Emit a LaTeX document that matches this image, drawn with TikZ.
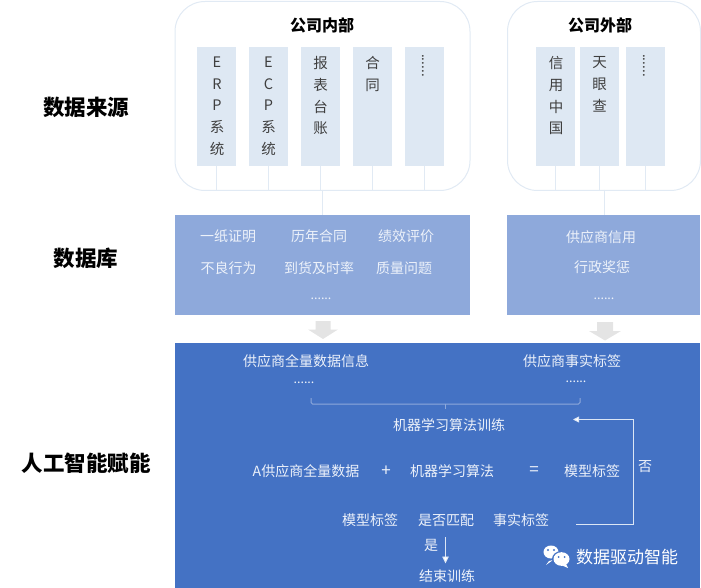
\documentclass[tikz,border=0pt]{standalone}
\usepackage{fontspec}
\setmainfont{Noto Sans CJK SC}
\usetikzlibrary{arrows.meta,calc}
\definecolor{colfill}{HTML}{DEE8F3}
\definecolor{edgeblue}{HTML}{E1EAF4}
\definecolor{dbblue}{HTML}{8EA9DB}
\definecolor{mainblue}{HTML}{4472C4}
\definecolor{softwhite}{HTML}{EDF2FA}
\definecolor{linewhite}{HTML}{DCE6F5}
\definecolor{bracketblue}{HTML}{8EA9DB}
\definecolor{inktext}{HTML}{3F3F3F}
\definecolor{arrowgrey}{HTML}{E4E4E4}
\tikzset{
  x=1pt,y=-1pt,
  outerbox/.style={draw=edgeblue,line width=1pt,fill=white,rounded corners=30pt,anchor=north west,inner sep=0pt},
  colbox/.style={fill=colfill,anchor=north west,inner sep=0pt,minimum width=39pt,minimum height=119pt},
  coltext/.style={anchor=north,align=center,text=inktext,font=\fontsize{14.5}{21.7}\selectfont,inner sep=0pt},
  stem/.style={draw=edgeblue,line width=1pt},
  section/.style={font=\fontsize{21.5}{24}\selectfont\bfseries,text=black,inner sep=0pt},
  head/.style={font=\fontsize{16}{18}\selectfont\bfseries,text=black,inner sep=0pt},
  panel/.style={anchor=north west,inner sep=0pt},
  dbtext/.style={font=\fontsize{14}{16}\selectfont,text=softwhite,inner sep=0pt},
  optext/.style={font=\fontsize{17}{19}\selectfont,text=softwhite,inner sep=0pt},
  dottext/.style={font=\fontsize{12.5}{14}\selectfont,text=softwhite,inner sep=0pt},
  dotsv/.style={font=\fontsize{13.5}{16}\selectfont,text=inktext,rotate=-90,inner sep=0pt},
  wline/.style={draw=linewhite,line width=0.9pt},
  graydown/.style={fill=arrowgrey},
}
\begin{document}
\begin{tikzpicture}
\useasboundingbox (0,0) rectangle (701,588);
% outer boxes
\node[outerbox,minimum width=295pt,minimum height=189pt] (inner) at (174.5,1) {};
\node[outerbox,minimum width=193pt,minimum height=189pt] (outer) at (507,1) {};
\node[head] (innerT) at (322,25) {公司内部};
\node[head] (outerT) at (600,25) {公司外部};
% columns
\node[colbox] (c1) at (197,47) {};
\node[colbox] (c2) at (249,47) {};
\node[colbox] (c3) at (301,47) {};
\node[colbox] (c4) at (353,47) {};
\node[colbox] (c5) at (405,47) {};
\node[colbox] (d1) at (536,47) {};
\node[colbox] (d2) at (580,47) {};
\node[colbox] (d3) at (626,47) {};
\node[coltext] (t1) at (217,56.5) {E\\R\\P\\系\\统};
\node[coltext] (t2) at (268.5,56.5) {E\\C\\P\\系\\统};
\node[coltext] (t3) at (320.5,56.5) {报\\表\\台\\账};
\node[coltext] (t4) at (372.5,56.5) {合\\同};
\node[coltext] (u1) at (556,56.5) {信\\用\\中\\国};
\node[coltext] (u2) at (599.5,56.5) {天\\眼\\查};
\node[dotsv] (t5) at (423,65.5) {......};
\node[dotsv] (u3) at (644,65.5) {......};
% panels
\node[panel,fill=dbblue,minimum width=295pt,minimum height=100pt] (db1) at (175,214.5) {};
\node[panel,fill=dbblue,minimum width=193pt,minimum height=100pt] (db2) at (507,214.5) {};
\node[panel,fill=mainblue,minimum width=525pt,minimum height=245.5pt] (ai) at (175,342.5) {};
% stems
\foreach \n in {c1,c2,c3,c4,c5}{\draw[stem] (\n.south) -- (\n.south |- inner.south);}
\foreach \n in {d1,d2,d3}{\draw[stem] (\n.south) -- (\n.south |- outer.south);}
\coordinate (st1) at (322,190);
\coordinate (st2) at (604,190);
\draw[stem] (st1) -- (st1 |- db1.north);
\draw[stem] (st2) -- (st2 |- db2.north);
% section labels
\node[section] (s1) at (86,107) {数据来源};
\node[section] (s2) at (86,258) {数据库};
\node[section] (s3) at (86,463) {人工智能赋能};
% db text
\node[dbtext] (a1) at (228,236.5) {一纸证明};
\node[dbtext] (a2) at (319,236.5) {历年合同};
\node[dbtext] (a3) at (406,236.5) {绩效评价};
\node[dbtext] (a4) at (228.5,268) {不良行为};
\node[dbtext] (a5) at (319,268) {到货及时率};
\node[dbtext] (a6) at (404,268) {质量问题};
\node[dottext] (a7) at (321,299) {......};
\node[dbtext] (b1) at (601,237) {供应商信用};
\node[dbtext] (b2) at (602,267) {行政奖惩};
\node[dottext] (b3) at (604,299) {......};
% grey arrows
\fill[graydown] (315.5,321) -- (330.5,321) -- (330.5,329.5) -- (338,329.5) -- (323,339) -- (308,329.5) -- (315.5,329.5) -- cycle;
\fill[graydown] (597,322) -- (613,322) -- (613,331) -- (621,331) -- (605,340.5) -- (589,331) -- (597,331) -- cycle;
% AI text
\node[dbtext] (k1) at (306,361) {供应商全量数据信息};
\node[dottext] (k2) at (304,383) {......};
\node[dbtext] (k3) at (572,361) {供应商事实标签};
\node[dottext] (k4) at (576,382) {......};
\node[dbtext] (m0) at (449,425) {机器学习算法训练};
\node[dbtext] (m1) at (306,471) {A供应商全量数据};
\node[optext] (m2) at (386,471) {+};
\node[dbtext] (m3) at (452,471) {机器学习算法};
\node[optext] (m4) at (534,471) {=};
\node[dbtext] (m5) at (592,471) {模型标签};
\node[dbtext] (n1) at (370,520) {模型标签};
\node[dbtext] (n2) at (446,520) {是否匹配};
\node[dbtext] (n3) at (521,520) {事实标签};
\node[dbtext] (no) at (645,467) {否};
\node[dbtext] (yes) at (431,545) {是};
\node[dbtext] (end) at (447,576) {结束训练};
% bracket
\coordinate (brL) at (311,398);
\coordinate (brR) at (580,398);
\coordinate (brM) at (445,404);
\coordinate (brS) at (445,409);
\draw[draw=bracketblue,line width=1pt,rounded corners=1.5pt] (brL) |- (brM) -| (brR);
\draw[draw=bracketblue,line width=0.8pt] (brM) -- (brS);
% feedback
\coordinate (fbS) at (576,524);
\coordinate (fbC) at (633.5,524);
\coordinate (fbT) at (573,419.5);
\draw[wline,-{Triangle[length=6pt,width=6pt,fill=white]}] (fbS) -- (fbC) |- (fbT);
% yes arrow
\coordinate (yS) at (445.5,537);
\coordinate (yE) at (445.5,563.5);
\draw[wline,-{Triangle[length=7pt,width=6.5pt,fill=white]}] (yS) -- (yE);
% watermark
\fill[white] (551,552) ellipse (7.5pt and 6.5pt);
\fill[white] (549,561) -- (546,565) -- (553,560) -- cycle;
\fill[mainblue] (561.5,559) ellipse (9.5pt and 8pt);
\fill[white] (561.5,559) ellipse (8pt and 6.8pt);
\fill[white] (566,564) -- (568,568) -- (561,565) -- cycle;
\fill[mainblue] (548,550) circle (1.2pt) (554,550) circle (1.2pt) (558.5,557) circle (1pt) (564.5,557) circle (1pt);
\node[font=\fontsize{17}{19}\selectfont,text=white,inner sep=0pt] (wm) at (627,557) {数据驱动智能};
\end{tikzpicture}
\end{document}
